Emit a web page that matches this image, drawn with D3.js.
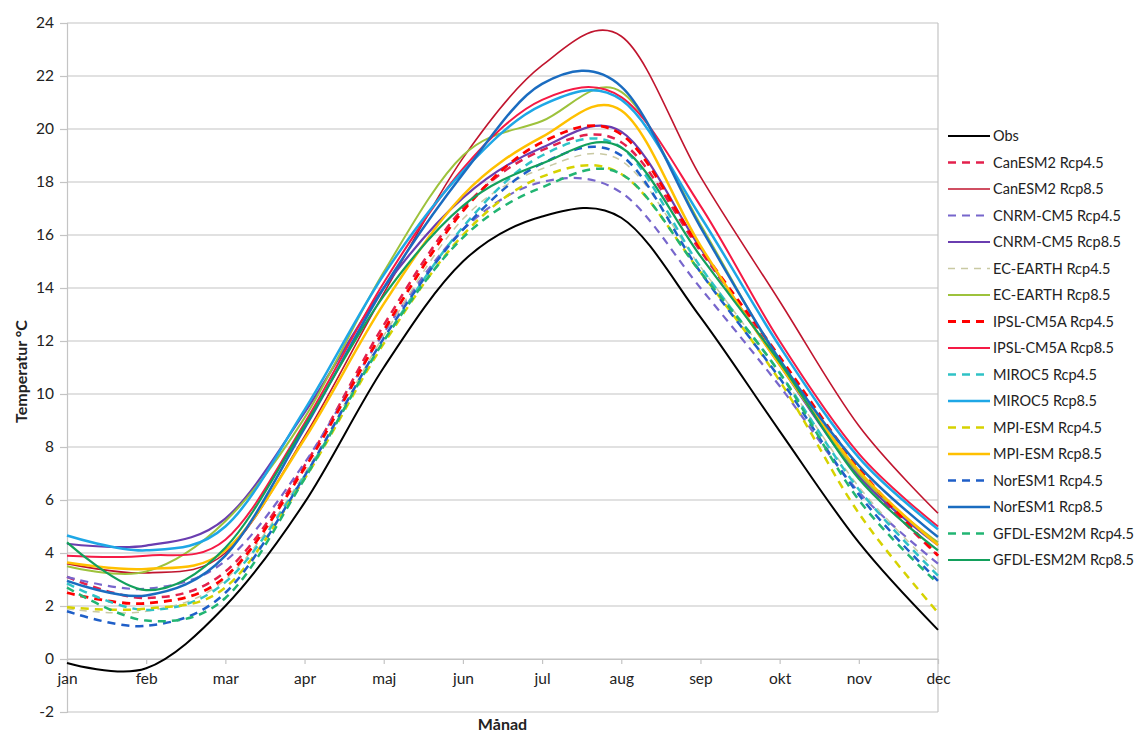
<!DOCTYPE html>
<html>
<head>
<meta charset="utf-8">
<script src="https://cdn.jsdelivr.net/npm/d3@7"></script>
<style>
  body { margin: 0; background: #fff; }
  text { font-family: Lato, "Open Sans", sans-serif; fill: #222; }
</style>
</head>
<body>
<div class="canvas"></div>
<script>
// data (degrees C, jan..dec)
const months = ['jan', 'feb', 'mar', 'apr', 'maj', 'jun', 'jul', 'aug', 'sep', 'okt', 'nov', 'dec'];
const yTicks = [-2, 0, 2, 4, 6, 8, 10, 12, 14, 16, 18, 20, 22, 24];

const obs            = [-0.15, -0.35, 2.0, 5.9, 11.0, 15.0, 16.7, 16.65, 12.9, 8.6, 4.4, 1.1];
const canesm2Rcp45   = [3.1, 2.3, 3.3, 7.3, 12.6, 17.0, 19.2, 19.5, 15.4, 11.2, 7.0, 3.9];
const canesm2Rcp85   = [3.6, 3.25, 4.0, 8.4, 13.8, 18.9, 22.4, 23.5, 18.2, 13.5, 8.8, 5.5];
const cnrmRcp45      = [3.1, 2.65, 3.7, 7.4, 12.3, 16.2, 18.0, 17.6, 14.0, 10.3, 6.3, 3.6];
const cnrmRcp85      = [4.35, 4.28, 5.3, 9.3, 14.0, 17.4, 19.3, 19.9, 15.5, 11.1, 6.9, 4.3];
const ecearthRcp45   = [1.9, 1.8, 3.0, 7.0, 12.2, 16.6, 18.5, 18.8, 14.8, 10.8, 6.5, 3.3];
const ecearthRcp85   = [3.5, 3.3, 5.2, 9.1, 14.6, 19.0, 20.3, 21.4, 16.4, 11.2, 7.0, 4.4];
const ipslRcp45      = [2.5, 2.1, 3.1, 7.2, 12.4, 16.9, 19.5, 19.8, 15.5, 11.4, 7.2, 3.9];
const ipslRcp85      = [3.9, 3.9, 4.5, 8.9, 14.2, 18.5, 21.1, 21.2, 17.1, 12.0, 7.75, 5.0];
const mirocRcp45     = [2.85, 1.85, 2.9, 6.9, 12.0, 16.3, 19.0, 19.3, 14.8, 10.8, 6.4, 3.15];
const mirocRcp85     = [4.66, 4.1, 5.0, 9.4, 14.5, 18.4, 20.9, 21.1, 16.7, 11.8, 7.6, 4.9];
const mpiRcp45       = [1.95, 1.9, 2.7, 6.8, 11.9, 16.0, 18.2, 18.3, 14.6, 10.5, 5.5, 1.75];
const mpiRcp85       = [3.64, 3.4, 4.1, 8.3, 13.4, 17.5, 19.7, 20.7, 15.6, 11.1, 7.1, 4.3];
const noresmRcp45    = [1.8, 1.25, 2.5, 6.9, 12.1, 16.2, 18.7, 19.0, 14.6, 10.6, 6.2, 2.95];
const noresmRcp85    = [2.95, 2.4, 3.9, 8.7, 14.0, 18.3, 21.7, 21.6, 16.3, 11.3, 7.3, 4.6];
const gfdlRcp45      = [2.7, 1.45, 2.3, 6.8, 12.0, 15.9, 17.8, 18.3, 14.6, 10.8, 6.0, 2.85];
const gfdlRcp85      = [4.4, 2.6, 4.2, 8.8, 13.7, 17.1, 18.7, 19.3, 15.2, 11.2, 6.8, 4.1];

const seriesNames = [
    'Obs', 'CanESM2 Rcp4.5', 'CanESM2 Rcp8.5', 'CNRM-CM5 Rcp4.5', 'CNRM-CM5 Rcp8.5',
    'EC-EARTH Rcp4.5', 'EC-EARTH Rcp8.5', 'IPSL-CM5A Rcp4.5', 'IPSL-CM5A Rcp8.5',
    'MIROC5 Rcp4.5', 'MIROC5 Rcp8.5', 'MPI-ESM Rcp4.5', 'MPI-ESM Rcp8.5',
    'NorESM1 Rcp4.5', 'NorESM1 Rcp8.5', 'GFDL-ESM2M Rcp4.5', 'GFDL-ESM2M Rcp8.5'
];
const seriesValues = [
    obs, canesm2Rcp45, canesm2Rcp85, cnrmRcp45, cnrmRcp85, ecearthRcp45, ecearthRcp85,
    ipslRcp45, ipslRcp85, mirocRcp45, mirocRcp85, mpiRcp45, mpiRcp85,
    noresmRcp45, noresmRcp85, gfdlRcp45, gfdlRcp85
];

// line styles, same order as the series
const styles = [
    { color: '#000000', width: 2, dash: null },
    { color: '#e3204c', width: 2.5, dash: '8,6' },
    { color: '#c0152e', width: 1.6, dash: null },
    { color: '#7766cc', width: 2.2, dash: '8,6' },
    { color: '#6a3db0', width: 2.2, dash: null },
    { color: '#c9c9a3', width: 1.5, dash: '7,6' },
    { color: '#9dc23c', width: 2, dash: null },
    { color: '#ff0000', width: 2.8, dash: '8,6' },
    { color: '#f51a45', width: 2, dash: null },
    { color: '#2fc2c6', width: 2.5, dash: '8,6' },
    { color: '#1ea7e6', width: 2.5, dash: null },
    { color: '#d6d200', width: 2.5, dash: '8,6' },
    { color: '#ffc000', width: 2.5, dash: null },
    { color: '#1f5fc8', width: 2.5, dash: '8,6' },
    { color: '#1a6cc0', width: 2.5, dash: null },
    { color: '#22b573', width: 2.5, dash: '8,6' },
    { color: '#13a05c', width: 2.2, dash: null }
];

const series = seriesNames.map((name, i) => ({ name, values: seriesValues[i], ...styles[i] }));

const dimensions = { width: 1142, height: 733 };
const plot = { left: 67, right: 938, top: 23, bottom: 712 };

const svg = d3.select('.canvas')
    .append('svg')
    .attr('width', dimensions.width)
    .attr('height', dimensions.height)
    .style('background', '#fff');

const x = d3.scalePoint()
    .domain(months)
    .range([plot.left, plot.right]);

const y = d3.scaleLinear()
    .domain([-2, 24])
    .range([plot.bottom, plot.top]);

const gridColor = '#c4c4c4';

// horizontal gridlines
svg.append('g')
    .selectAll('line')
    .data(yTicks)
    .enter()
    .append('line')
    .attr('x1', plot.left)
    .attr('x2', plot.right)
    .attr('y1', d => y(d))
    .attr('y2', d => y(d))
    .attr('stroke', gridColor)
    .attr('stroke-width', 1.2);

// y axis (left), drawn with d3.axisLeft and restyled
const yAxis = svg.append('g')
    .attr('transform', `translate(${plot.left}, 0)`)
    .call(d3.axisLeft(y).tickValues(yTicks).tickSize(7).tickPadding(6).tickFormat(d => String(d)));
yAxis.select('.domain').attr('stroke', gridColor).attr('stroke-width', 1.2);
yAxis.selectAll('line').attr('stroke', gridColor).attr('stroke-width', 1.2);
yAxis.selectAll('text')
    .attr('font-size', 15.5)
    .attr('font-family', 'Lato, sans-serif')
    .attr('fill', '#222');

// right border of plot area
svg.append('line')
    .attr('x1', plot.right).attr('x2', plot.right)
    .attr('y1', plot.top).attr('y2', plot.bottom)
    .attr('stroke', gridColor)
    .attr('stroke-width', 1.2);

// x axis crosses at 0
const xAxis = svg.append('g')
    .attr('transform', `translate(0, ${y(0)})`)
    .call(d3.axisBottom(x).tickSize(5).tickPadding(9).tickSizeOuter(0));
xAxis.select('.domain').attr('stroke', gridColor).attr('stroke-width', 1.2);
xAxis.selectAll('line').attr('stroke', gridColor).attr('stroke-width', 1.2);
xAxis.selectAll('text')
    .attr('font-size', 15.5)
    .attr('font-family', 'Lato, sans-serif')
    .attr('fill', '#222');

// smoothed lines (Excel style smoothing ~ uniform Catmull-Rom)
const line = d3.line()
    .x((d, i) => x(months[i]))
    .y(d => y(d))
    .curve(d3.curveCardinal.tension(0));

svg.append('g')
    .selectAll('path')
    .data(series)
    .enter()
    .append('path')
    .attr('d', d => line(d.values))
    .attr('fill', 'none')
    .attr('stroke', d => d.color)
    .attr('stroke-width', d => d.width)
    .attr('stroke-dasharray', d => d.dash)
    .attr('stroke-linecap', 'butt');

// axis titles
svg.append('text')
    .attr('transform', `translate(27, ${(plot.top + plot.bottom) / 2 + 4}) rotate(-90)`)
    .attr('text-anchor', 'middle')
    .attr('font-size', 16)
    .attr('font-weight', 'bold')
    .text('Temperatur °C');

svg.append('text')
    .attr('x', (plot.left + plot.right) / 2)
    .attr('y', 730)
    .attr('text-anchor', 'middle')
    .attr('font-size', 16)
    .attr('font-weight', 'bold')
    .text('Månad');

// legend
const legendGroup = svg.append('g')
    .attr('transform', 'translate(948, 136)');

const legendItems = legendGroup.selectAll('g')
    .data(series)
    .enter()
    .append('g')
    .attr('transform', (d, i) => `translate(0, ${i * 26.5})`);

legendItems.append('line')
    .attr('x1', 0).attr('x2', 42)
    .attr('y1', 0).attr('y2', 0)
    .attr('stroke', d => d.color)
    .attr('stroke-width', d => d.width)
    .attr('stroke-dasharray', d => d.dash);

legendItems.append('text')
    .attr('x', 45)
    .attr('y', 5)
    .attr('font-size', 14.5)
    .text(d => d.name);
</script>
</body>
</html>
